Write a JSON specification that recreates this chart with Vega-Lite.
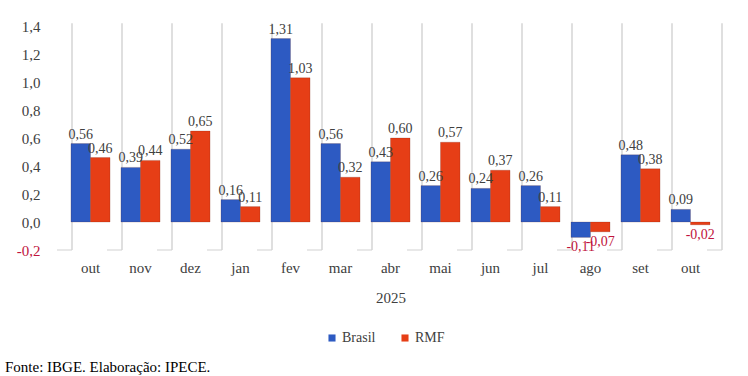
{
  "$schema": "https://vega.github.io/schema/vega-lite/v6.json",
  "autosize": "none",
  "width": 667,
  "height": 224,
  "padding": {"left": 57, "top": 26, "right": 24, "bottom": 126},
  "background": "white",
  "data": {"values": [
    {"idx": 1, "mes": "out", "serie": "Brasil", "valor": 0.56},
    {"idx": 1, "mes": "out", "serie": "RMF", "valor": 0.46},
    {"idx": 2, "mes": "nov", "serie": "Brasil", "valor": 0.39},
    {"idx": 2, "mes": "nov", "serie": "RMF", "valor": 0.44},
    {"idx": 3, "mes": "dez", "serie": "Brasil", "valor": 0.52},
    {"idx": 3, "mes": "dez", "serie": "RMF", "valor": 0.65},
    {"idx": 4, "mes": "jan", "serie": "Brasil", "valor": 0.16},
    {"idx": 4, "mes": "jan", "serie": "RMF", "valor": 0.11},
    {"idx": 5, "mes": "fev", "serie": "Brasil", "valor": 1.31},
    {"idx": 5, "mes": "fev", "serie": "RMF", "valor": 1.03},
    {"idx": 6, "mes": "mar", "serie": "Brasil", "valor": 0.56},
    {"idx": 6, "mes": "mar", "serie": "RMF", "valor": 0.32},
    {"idx": 7, "mes": "abr", "serie": "Brasil", "valor": 0.43},
    {"idx": 7, "mes": "abr", "serie": "RMF", "valor": 0.60},
    {"idx": 8, "mes": "mai", "serie": "Brasil", "valor": 0.26},
    {"idx": 8, "mes": "mai", "serie": "RMF", "valor": 0.57},
    {"idx": 9, "mes": "jun", "serie": "Brasil", "valor": 0.24},
    {"idx": 9, "mes": "jun", "serie": "RMF", "valor": 0.37},
    {"idx": 10, "mes": "jul", "serie": "Brasil", "valor": 0.26},
    {"idx": 10, "mes": "jul", "serie": "RMF", "valor": 0.11},
    {"idx": 11, "mes": "ago", "serie": "Brasil", "valor": -0.11},
    {"idx": 11, "mes": "ago", "serie": "RMF", "valor": -0.07},
    {"idx": 12, "mes": "set", "serie": "Brasil", "valor": 0.48},
    {"idx": 12, "mes": "set", "serie": "RMF", "valor": 0.38},
    {"idx": 13, "mes": "out", "serie": "Brasil", "valor": 0.09},
    {"idx": 13, "mes": "out", "serie": "RMF", "valor": -0.02}
  ]},
  "title": {
    "text": "Fonte: IBGE. Elaboração: IPECE.",
    "orient": "bottom",
    "anchor": "start",
    "frame": "group",
    "dx": -52,
    "offset": 15,
    "font": "Liberation Serif",
    "fontSize": 15,
    "fontWeight": "normal",
    "color": "#000000"
  },
  "encoding": {
    "x": {
      "field": "idx",
      "type": "ordinal",
      "scale": {"paddingInner": 0, "paddingOuter": 0.17},
      "axis": {
        "title": "2025",
        "labelExpr": "['out','nov','dez','jan','fev','mar','abr','mai','jun','jul','ago','set','out'][datum.value - 1]",
        "labelAngle": 0,
        "labelDx": -6,
        "labelPadding": 10,
        "titlePadding": 15,
        "domain": false,
        "ticks": false,
        "grid": false,
        "labelFont": "Liberation Serif",
        "labelFontSize": 15,
        "labelColor": "#404040",
        "titleFont": "Liberation Serif",
        "titleFontSize": 15,
        "titleFontWeight": "normal",
        "titleColor": "#404040"
      }
    },
    "y": {
      "field": "valor",
      "type": "quantitative",
      "scale": {"domain": [-0.2, 1.4], "nice": false},
      "axis": {
        "title": null,
        "values": [-0.2, 0, 0.2, 0.4, 0.6, 0.8, 1.0, 1.2, 1.4],
        "format": ".1f",
        "domain": false,
        "ticks": false,
        "grid": false,
        "labelOverlap": false,
        "labelPadding": 17,
        "labelFont": "Liberation Serif",
        "labelFontSize": 15,
        "labelColor": {"condition": {"test": "datum.value < 0", "value": "#C0143C"}, "value": "#404040"}
      }
    }
  },
  "layer": [
    {
      "transform": [{"filter": "datum.serie == 'Brasil'"}],
      "mark": {"type": "rule", "color": "#D4D4D4", "strokeWidth": 1.5},
      "encoding": {
        "x": {"field": "idx", "type": "ordinal", "bandPosition": 0.13},
        "y": {"datum": 1.42, "type": "quantitative"},
        "y2": {"datum": -0.2}
      }
    },
    {
      "transform": [{"filter": "datum.serie == 'Brasil' && datum.idx == 13"}],
      "mark": {"type": "rule", "color": "#D4D4D4", "strokeWidth": 1.5},
      "encoding": {
        "x": {"field": "idx", "type": "ordinal", "bandPosition": 1.13},
        "y": {"datum": 1.42, "type": "quantitative"},
        "y2": {"datum": -0.2}
      }
    },
    {
      "transform": [{"filter": "datum.serie == 'Brasil'"}],
      "mark": {"type": "tick", "color": "#D4D4D4", "size": 15, "thickness": 1.5, "xOffset": -26},
      "encoding": {
        "y": {"datum": -0.2, "type": "quantitative"}
      }
    },
    {
      "transform": [{"filter": "datum.serie == 'Brasil' && datum.idx == 13"}],
      "mark": {"type": "tick", "color": "#D4D4D4", "size": 15, "thickness": 1.5, "xOffset": 24},
      "encoding": {
        "y": {"datum": -0.2, "type": "quantitative"}
      }
    },
    {
      "mark": {"type": "bar", "stroke": "#5a1a10", "strokeOpacity": 0.25, "strokeWidth": 0.8},
      "encoding": {
        "xOffset": {"field": "serie", "type": "nominal", "scale": {"paddingInner": 0, "paddingOuter": 0.28}},
        "color": {
          "field": "serie",
          "type": "nominal",
          "scale": {"domain": ["Brasil", "RMF"], "range": ["#2D5AC2", "#E63E16"]},
          "legend": {
            "title": null,
            "orient": "none",
            "legendX": 268,
            "legendY": 305,
            "direction": "horizontal",
            "symbolType": "square",
            "symbolSize": 50,
            "symbolStrokeWidth": 0,
            "columnPadding": 22,
            "labelOffset": 3,
            "labelFont": "Liberation Serif",
            "labelFontSize": 14,
            "labelColor": "#404040"
          }
        }
      }
    },
    {
      "transform": [{"filter": "datum.valor >= 0"}],
      "mark": {"type": "text", "baseline": "bottom", "dy": -2, "font": "Liberation Serif", "fontSize": 14, "color": "#404040"},
      "encoding": {
        "xOffset": {"field": "serie", "type": "nominal"},
        "text": {"field": "valor", "type": "quantitative", "format": ".2f"}
      }
    },
    {
      "transform": [{"filter": "datum.valor < 0"}],
      "mark": {"type": "text", "baseline": "top", "dy": 3, "font": "Liberation Serif", "fontSize": 14, "color": "#C0143C"},
      "encoding": {
        "xOffset": {"field": "serie", "type": "nominal"},
        "text": {"field": "valor", "type": "quantitative", "format": ".2f"}
      }
    }
  ],
  "config": {
    "font": "Liberation Serif",
    "locale": {"number": {"decimal": ",", "thousands": ".", "grouping": [3], "currency": ["R$", ""], "minus": "-"}},
    "axis": {"labelOverlap": false},
    "legend": {"labelFont": "Liberation Serif"},
    "title": {"font": "Liberation Serif"},
    "view": {"stroke": null}
  }
}
